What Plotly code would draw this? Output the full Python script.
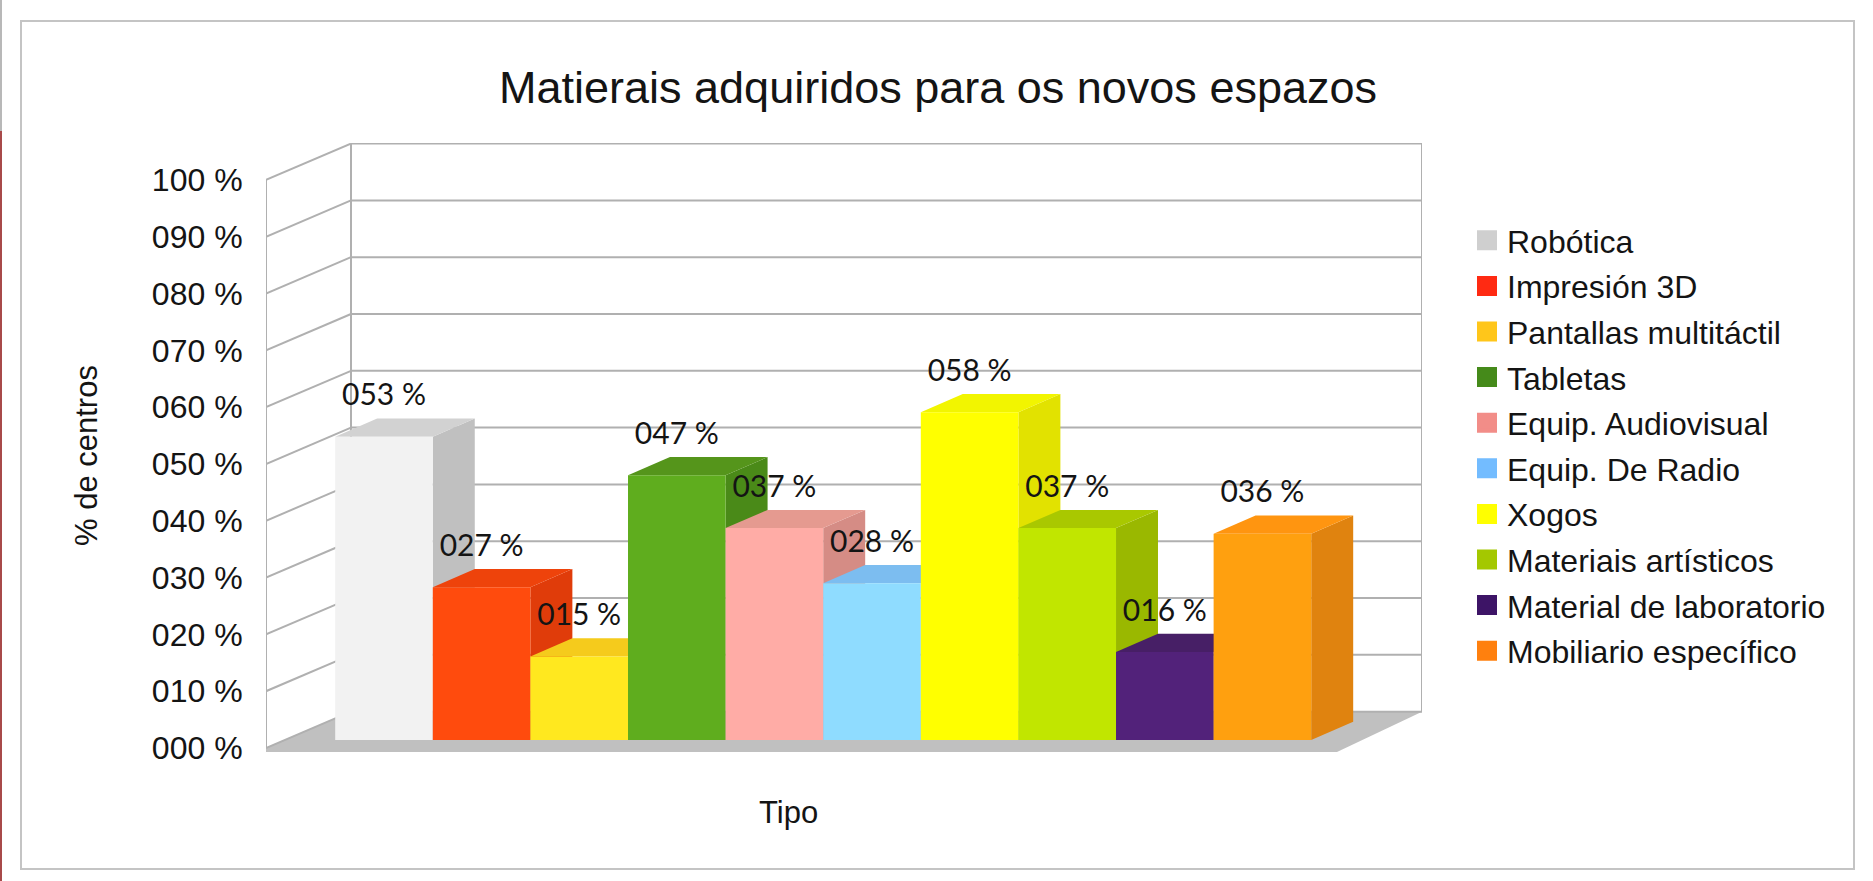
import plotly.graph_objects as go

W, H = 1873, 881

# ---- data ----
series_names = ["Robótica", "Impresión 3D", "Pantallas multitáctil", "Tabletas",
                "Equip. Audiovisual", "Equip. De Radio", "Xogos",
                "Materiais artísticos", "Material de laboratorio", "Mobiliario específico"]
series_values = [53.4, 26.9, 14.7, 46.6, 37.3, 27.6, 57.7, 37.3, 15.5, 36.3]
front_colors = ["#f2f2f2", "#ff4b0d", "#ffe81f", "#5fad1e", "#ffaca6",
                "#8fdcff", "#ffff00", "#c1e600", "#52227a", "#ffa00f"]
top_colors = ["#d2d2d2", "#ee430b", "#f5cb1c", "#55951b", "#e59a90",
              "#7cbdf0", "#f2f500", "#a9c800", "#471f66", "#ff9510"]
side_colors = ["#c0c0c0", "#e03c0a", "#e0b818", "#4a8a18", "#d58c85",
               "#6ea8d8", "#e2e200", "#9ab800", "#3d1a58", "#e0830f"]
legend_colors = ["#cfcfcf", "#ff2a12", "#ffc61a", "#458a1a", "#f28d88",
                 "#73bcff", "#ffff00", "#a4c800", "#3d1466", "#ff800e"]
y_ticks = [0, 10, 20, 30, 40, 50, 60, 70, 80, 90, 100]
y_tick_labels = [f"{t:03d} %" for t in y_ticks]

# ---- projection of the fake depth, in axis units ----
X_RANGE = [-1.209, 10.635]
Y_RANGE = [-0.7, 106.5]
WALL_DX, WALL_DY = 0.871, 6.4      # depth of the chart box
BAR_DX, BAR_DY = 0.43, 3.2         # depth of a bar
BAR_BASE = 1.41                    # bars stand a little way back on the floor
WALL_X0 = X_RANGE[0]
WALL_X1 = X_RANGE[1] - WALL_DX
GRID = "#b0b0b0"
FLOOR = "#c0c0c0"
TEXT = "#141414"

fig = go.Figure()

# side and top faces of each bar (primary subplot, underneath the front faces)
for i, v in enumerate(series_values):
    l, r, t = i - 0.5, i + 0.5, BAR_BASE + v
    fig.add_trace(go.Scatter(
        x=[r, r + BAR_DX, r + BAR_DX, r, r],
        y=[BAR_BASE, BAR_BASE + BAR_DY, t + BAR_DY, t, BAR_BASE],
        mode="lines", fill="toself", fillcolor=side_colors[i],
        line=dict(width=0), showlegend=False, hoverinfo="skip"))
    fig.add_trace(go.Scatter(
        x=[l, r, r + BAR_DX, l + BAR_DX, l],
        y=[t, t, t + BAR_DY, t + BAR_DY, t],
        mode="lines", fill="toself", fillcolor=top_colors[i],
        line=dict(width=0), showlegend=False, hoverinfo="skip"))

# front faces, on an overlaying subplot so they cover the neighbouring depth faces
for i, v in enumerate(series_values):
    fig.add_trace(go.Bar(
        x=[i], y=[v], base=[BAR_BASE], width=1, name=series_names[i],
        marker=dict(color=front_colors[i], line=dict(width=0)),
        xaxis="x2", yaxis="y2", showlegend=False,
        hovertemplate="%{y:.0f} %<extra>" + series_names[i] + "</extra>"))

# value labels
fig.add_trace(go.Scatter(
    x=list(range(len(series_values))),
    y=[BAR_BASE + v + 4.2 for v in series_values],
    text=[f"{v:03.0f} %" for v in series_values],
    mode="text", textposition="top center",
    textfont=dict(family="Lato", size=30, color=TEXT),
    xaxis="x2", yaxis="y2", showlegend=False, hoverinfo="skip"))

# legend entries
for i, name in enumerate(series_names):
    fig.add_trace(go.Scatter(
        x=[None], y=[None], mode="markers", name=name, legendgroup=name,
        marker=dict(symbol="square", size=16, color=legend_colors[i],
                    line=dict(color=legend_colors[i], width=4)),
        hoverinfo="skip"))

# chart box: floor, walls and gridlines
shapes = [
    dict(type="rect", xref="paper", yref="paper", x0=21 / W, x1=1854 / W,
         y0=1 - 869 / H, y1=1 - 21 / H, line=dict(color="#c4c4c4", width=2),
         fillcolor="white", layer="below"),
    dict(type="rect", xref="paper", yref="paper", x0=0, x1=2 / W,
         y0=1 - 131 / H, y1=1, line=dict(width=0), fillcolor="#b8b8b8", layer="below"),
    dict(type="rect", xref="paper", yref="paper", x0=0, x1=2 / W,
         y0=0, y1=1 - 131 / H, line=dict(width=0), fillcolor="#a84a4a", layer="below"),
    dict(type="path", xref="x", yref="y", layer="below", fillcolor=FLOOR,
         line=dict(width=0),
         path=f"M {WALL_X0} {Y_RANGE[0]} L {WALL_X0} 0 L {WALL_X0 + WALL_DX} {WALL_DY} "
              f"L {WALL_X1 + WALL_DX} {WALL_DY} L {WALL_X1} {Y_RANGE[0]} Z"),
]
def seg(x0, y0, x1, y1):
    return dict(type="line", xref="x", yref="y", layer="below", x0=x0, y0=y0, x1=x1, y1=y1,
                line=dict(color=GRID, width=2))
for t in y_ticks:
    back = t + WALL_DY
    shapes.append(seg(WALL_X0, t, WALL_X0 + WALL_DX, back))
    shapes.append(seg(WALL_X0 + WALL_DX, back, WALL_X1 + WALL_DX, back))
shapes.append(seg(WALL_X0, 0, WALL_X0, 100))
shapes.append(seg(WALL_X0 + WALL_DX, WALL_DY, WALL_X0 + WALL_DX, 100 + WALL_DY))
shapes.append(seg(WALL_X1 + WALL_DX, WALL_DY, WALL_X1 + WALL_DX, 100 + WALL_DY))

x_domain = [266 / W, 1422 / W]
y_domain = [1 - 752 / H, 1 - 143 / H]
axis_off = dict(visible=False, fixedrange=True)

fig.update_layout(
    width=W, height=H, autosize=False,
    margin=dict(l=0, r=0, t=0, b=0, pad=0, autoexpand=False),
    paper_bgcolor="white", plot_bgcolor="rgba(0,0,0,0)",
    barmode="overlay", shapes=shapes,
    font=dict(family="Liberation Sans", color=TEXT),
    title=dict(text="Matierais adquiridos para os novos espazos",
               x=938 / W, xanchor="center", y=1 - 87 / H, yanchor="middle",
               font=dict(family="Liberation Sans", size=45, color=TEXT)),
    xaxis=dict(domain=x_domain, range=X_RANGE, **axis_off),
    xaxis2=dict(domain=x_domain, range=X_RANGE, overlaying="x", **axis_off),
    yaxis=dict(domain=y_domain, range=Y_RANGE, tickmode="array", tickvals=y_ticks,
               ticktext=y_tick_labels, showgrid=False, zeroline=False, showline=False,
               ticks="outside", ticklen=16, tickcolor="rgba(0,0,0,0)", fixedrange=True,
               tickfont=dict(family="Liberation Sans", size=32, color=TEXT)),
    yaxis2=dict(domain=y_domain, range=Y_RANGE, overlaying="y", **axis_off),
    legend=dict(x=1467 / W, xanchor="left", y=1 - 213 / H, yanchor="top",
                font=dict(family="Liberation Sans", size=32, color=TEXT),
                tracegroupgap=1, bgcolor="rgba(0,0,0,0)", traceorder="grouped"),
    annotations=[
        dict(text="% de centros", x=86 / W, y=1 - 456 / H, xref="paper", yref="paper",
             showarrow=False, textangle=-90, xanchor="center", yanchor="middle",
             font=dict(family="Liberation Sans", size=31, color=TEXT)),
        dict(text="Tipo", x=788 / W, y=1 - 812 / H, xref="paper", yref="paper",
             showarrow=False, xanchor="center", yanchor="middle",
             font=dict(family="Liberation Sans", size=31, color=TEXT)),
    ],
)

fig.write_html(
    "out.html",
    config=dict(displayModeBar=False),
    post_script=("document.documentElement.style.cssText='margin:0;padding:0;height:881px;overflow:hidden';"
                 "document.body.style.cssText='margin:0;padding:0;height:881px;overflow:hidden';"),
)
